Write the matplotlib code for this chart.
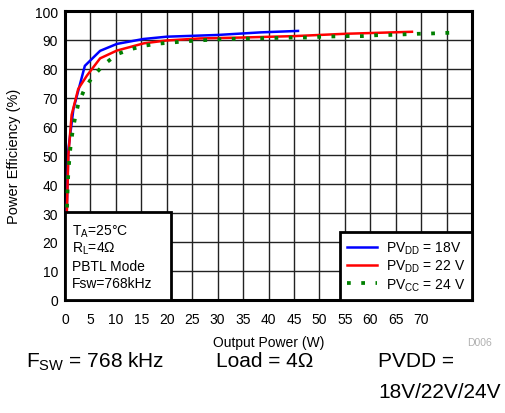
import matplotlib
matplotlib.use("Agg")
import matplotlib.pyplot as plt
from matplotlib.patches import Rectangle

plt.rcParams['font.family'] = ['Liberation Sans', 'DejaVu Sans']
plt.rcParams['mathtext.fontset'] = 'custom'
plt.rcParams['mathtext.rm'] = 'Liberation Sans'
plt.rcParams['mathtext.it'] = 'Liberation Sans:italic'

# Efficiency curves, PBTL mode, 4 ohm load, Fsw = 768 kHz
p_18v = [0.3, 0.66, 1.65, 3.9, 6.9, 10.2, 15.4, 20.0, 30.0, 38.5, 45.8]
eff_18v = [28.0, 52.0, 66.0, 81.0, 86.2, 88.6, 90.3, 91.1, 91.7, 92.6, 93.1]

p_22v = [0.3, 0.66, 1.3, 2.6, 4.3, 6.9, 10.2, 15.5, 20.0, 26.6, 34.5, 45.0, 55.0, 68.2]
eff_22v = [26.0, 50.0, 64.0, 73.0, 77.6, 83.6, 86.3, 88.8, 89.8, 90.5, 90.8, 91.3, 92.1, 92.8]

p_24v = [0.3, 0.53, 0.66, 0.86, 1.12, 1.5, 1.97, 2.6, 3.7, 5.3, 7.75, 10.3, 13.0,
         15.7, 18.4, 21.1, 23.7, 26.4, 29.1, 31.8, 34.4, 37.0, 39.8, 42.5, 45.1,
         47.8, 50.5, 53.1, 55.8, 58.4, 61.1, 63.8, 66.5, 69.2, 71.8, 74.5, 77.1]
eff_24v = [27.0, 39.3, 44.1, 48.7, 53.6, 58.3, 62.9, 67.7, 72.4, 77.0, 81.6, 85.1, 86.8,
           88.0, 88.7, 89.1, 89.5, 89.8, 90.1, 90.3, 90.4, 90.5, 90.6, 90.7, 90.8,
           90.8, 91.1, 91.2, 91.3, 91.3, 91.6, 91.7, 91.9, 92.1, 92.2, 92.4, 92.5]

x_ticks = list(range(0, 81, 5))
x_tick_labels = [str(v) if v <= 70 else "" for v in x_ticks]
y_ticks = list(range(0, 101, 10))

fig = plt.figure(figsize=(5.05, 4.14), dpi=100)
ax = fig.add_axes([65 / 505, 1 - 300.7 / 414, (472 - 65) / 505, (300.7 - 12) / 414])

ax.set_xlim(0, 80)
ax.set_ylim(0, 100)
ax.set_xticks(x_ticks)
ax.set_xticklabels(x_tick_labels)
ax.set_yticks(y_ticks)
ax.tick_params(length=0, labelsize=10)
ax.tick_params(axis='x', pad=9)
ax.tick_params(axis='y', pad=5)
ax.grid(True, color='#222222', linewidth=1.0)
ax.set_axisbelow(True)
for s in ax.spines.values():
    s.set_linewidth(2.2)

ax.plot(p_18v, eff_18v, color='#0000ff', lw=1.8, label=r'PV$_{\mathrm{DD}}$ = 18V', zorder=3)
ax.plot(p_22v, eff_22v, color='#ff0000', lw=1.8, label=r'PV$_{\mathrm{DD}}$ = 22 V', zorder=3)
ax.plot(p_24v, eff_24v, color='#008000', lw=2.7, linestyle=(0, (1, 2.8)),
        label=r'PV$_{\mathrm{CC}}$ = 24 V', zorder=3)

ax.set_xlabel('Output Power (W)', fontsize=10)
ax.xaxis.set_label_coords(0.5, -(335.7 - 300.7) / (300.7 - 12))
ax.set_ylabel('Power Efficiency (%)', fontsize=10.5)
ax.yaxis.set_label_coords(-(65 - 20.7) / (472 - 65), 0.5)

# Conditions box
ax.add_patch(Rectangle((0, 0), 20.9, 30.3, facecolor='white', edgecolor='black',
                       lw=2, zorder=4))
cond = [r'T$_{\mathrm{A}}$=25°C', r'R$_{\mathrm{L}}$=4Ω', 'PBTL Mode', 'Fsw=768kHz']
for i, t in enumerate(cond):
    fig.text(72 / 505, 1 - (231.7 + 17.5 * i) / 414, t, fontsize=10,
             va='center', ha='left', zorder=5)

leg = ax.legend(loc='lower right', borderaxespad=0, fontsize=10, frameon=True,
                fancybox=False, framealpha=1, edgecolor='black',
                handlelength=2.2, handletextpad=0.6, labelspacing=0.15,
                borderpad=0.5)
leg.get_frame().set_linewidth(2)
leg.set_zorder(6)

fig.text(480 / 505, 1 - 343 / 414, 'D006', fontsize=7.5, color='#b0b0b0',
         ha='center', va='center')

fig.text(26 / 505, 1 - 362 / 414, r'F$_{\mathrm{SW}}$ = 768 kHz', fontsize=15,
         ha='left', va='center')
fig.text(216 / 505, 1 - 362 / 414, 'Load = 4Ω', fontsize=15, ha='left', va='center')
fig.text(378 / 505, 1 - 362 / 414, 'PVDD =', fontsize=15, ha='left', va='center')
fig.text(378 / 505, 1 - 393 / 414, '18V/22V/24V', fontsize=15, ha='left', va='center')

fig.savefig('out.png', dpi=100)
